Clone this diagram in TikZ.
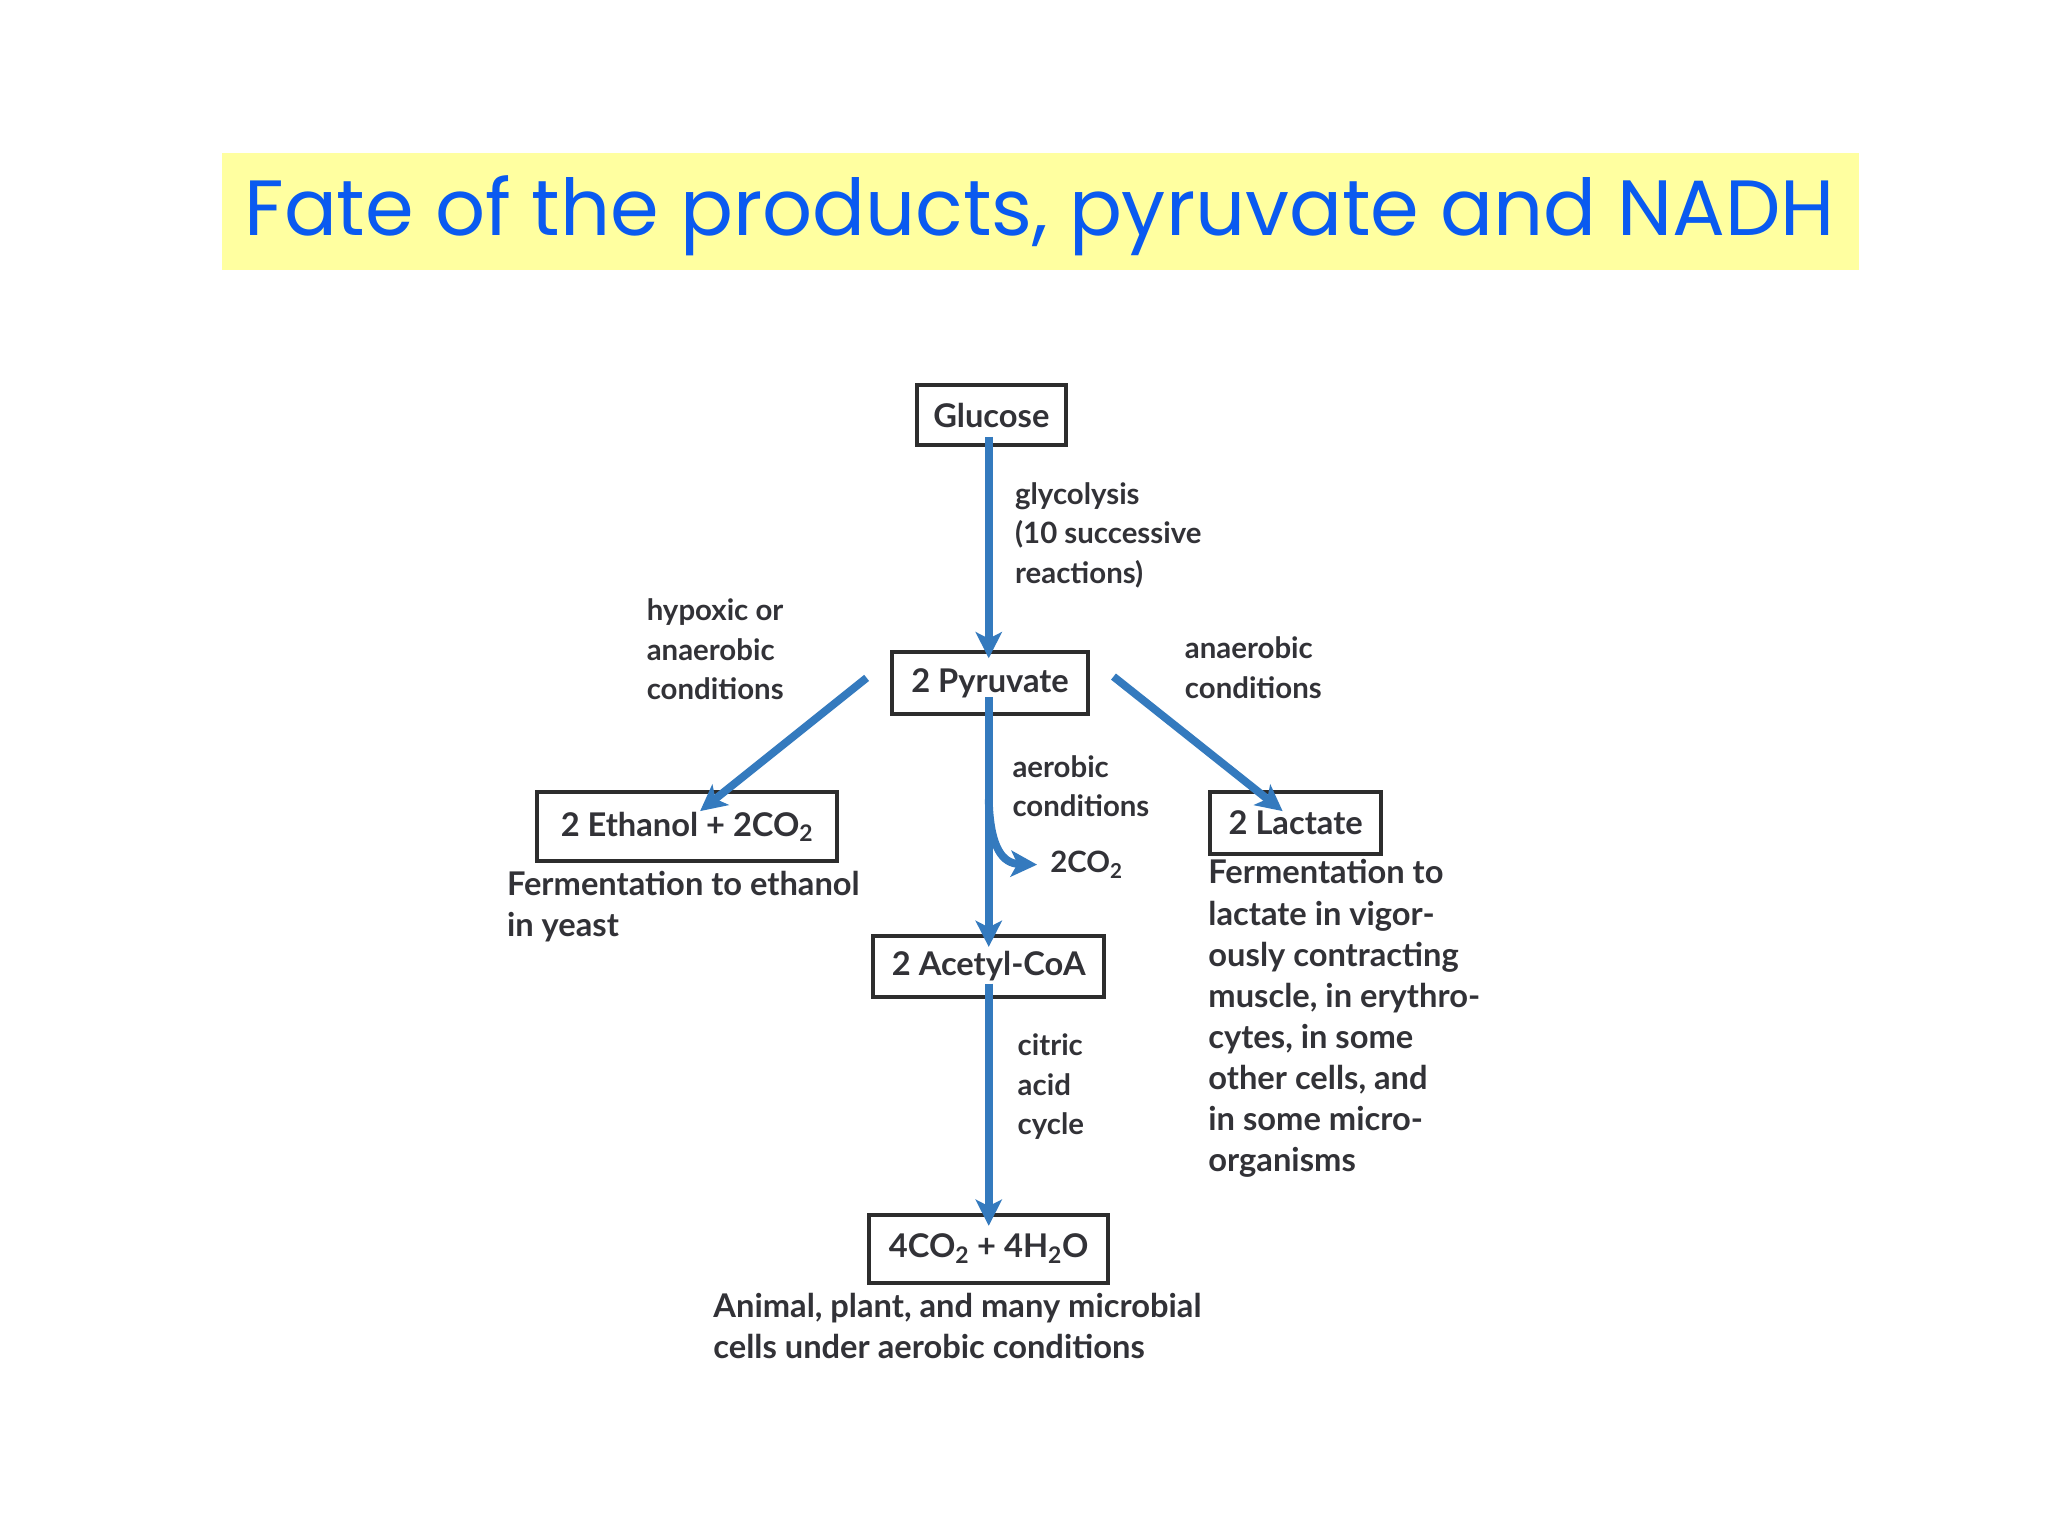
\documentclass[tikz,border=0pt]{standalone}
\usepackage{fontspec}
\setmainfont{Lato}
\newfontfamily\titlefont{Poppins}
\usetikzlibrary{arrows.meta}
\definecolor{arrowblue}{RGB}{52,122,190}
\definecolor{boxgray}{RGB}{45,45,45}
\definecolor{txtgray}{RGB}{50,50,55}
\definecolor{titleblue}{RGB}{10,90,240}
\definecolor{titlebg}{RGB}{255,255,160}
\begin{document}
\begin{tikzpicture}[x=1pt,y=-1pt,
  box/.style={draw=boxgray,line width=3pt,inner sep=0pt,font=\fontsize{25}{30}\selectfont\bfseries,text=txtgray},
  lbl/.style={anchor=north west,align=left,inner sep=0pt,font=\fontsize{22.5}{30.5}\selectfont\bfseries,text=txtgray},
  desc/.style={anchor=north west,align=left,inner sep=0pt,font=\fontsize{25}{31.5}\selectfont\bfseries,text=txtgray},
  flow/.style={draw=arrowblue,line width=6pt,-{Stealth[length=20pt,width=20pt,inset=5pt]}}]
\useasboundingbox (0,0) rectangle (1568,1176);
\fill[white] (0,0) rectangle (1568,1176);
\fill[titlebg] (170,117) rectangle (1423,207);
\node[anchor=west,inner sep=0pt,text=titleblue,font=\titlefont\fontsize{60}{70}\selectfont] (title) at (187,165) {Fate of the products, pyruvate and NADH};
% boxes
\node[box,minimum width=114pt,minimum height=46pt] (g) at (759,318) {Glucose};
\node[box,minimum width=150pt,minimum height=47pt] (p) at (758,523) {2 Pyruvate};
\node[box,minimum width=230pt,minimum height=53pt] (e) at (526,633) {2 Ethanol + 2CO\textsubscript{2}};
\node[box,minimum width=131pt,minimum height=47pt] (l) at (992,630) {2 Lactate};
\node[box,minimum width=177pt,minimum height=47pt] (a) at (757,740) {2 Acetyl-CoA};
\node[box,minimum width=183pt,minimum height=52pt] (c) at (757,956) {4CO\textsubscript{2} + 4H\textsubscript{2}O};
% labels
\node[lbl] (l1) at (777,369) {glycolysis\\(10 successive\\reactions)};
\node[lbl] (l2) at (495,458) {hypoxic or\\anaerobic\\conditions};
\node[lbl] (l3) at (907,487) {anaerobic\\conditions};
\node[lbl] (l4) at (775,578) {aerobic\\conditions};
\node[lbl] (l5) at (779,791) {citric\\acid\\cycle};
\node[lbl,anchor=west] (co2) at (804,662) {2CO\textsubscript{2}};
\node[desc] (d1) at (388,667) {Fermentation to ethanol\\in yeast};
\node[desc] (d2) at (925,658) {Fermentation to\\lactate in vigor-\\ously contracting\\muscle, in erythro-\\cytes, in some\\other cells, and\\in some micro-\\organisms};
\node[desc] (d3) at (546,990) {Animal, plant, and many microbial\\cells under aerobic conditions};
% arrows
\draw[flow] ([xshift=-2pt,yshift=8pt]g.south) -- ([xshift=-1pt,yshift=-6pt]p.north);
\draw[flow] ([xshift=-18pt,yshift=4pt]p.west) -- ([xshift=10pt,yshift=-16pt]e.north);
\draw[flow] ([xshift=18pt,yshift=5pt]p.east) -- ([xshift=-10pt,yshift=-16pt]l.north);
\draw[flow] ([xshift=-1pt,yshift=14pt]p.south) -- ([yshift=-10pt]a.north);
\coordinate (br) at (757,612);
\draw[flow] (br) .. controls (758,650) and (768,661) .. ([xshift=-10pt]co2.west);
\draw[flow] ([yshift=12pt]a.south) -- ([yshift=-10pt]c.north);
\end{tikzpicture}
\end{document}
